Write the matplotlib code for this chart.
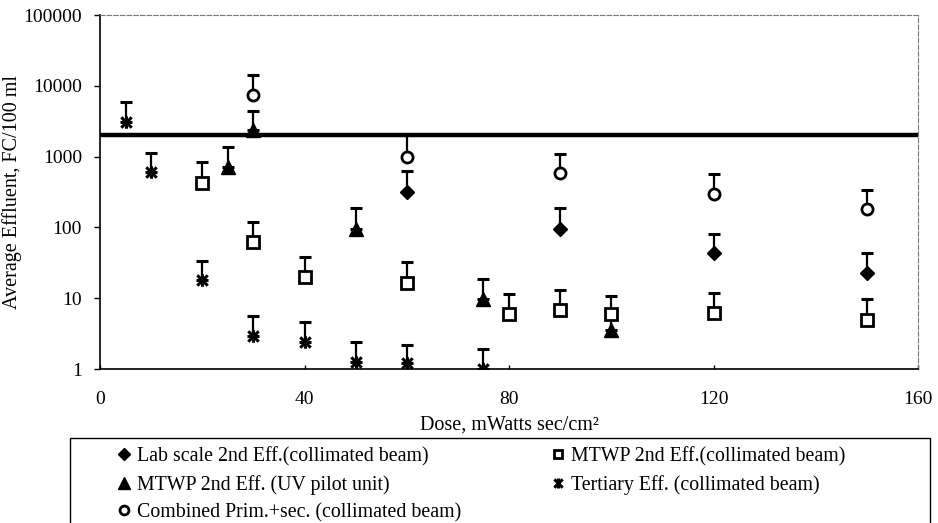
"""UV dose vs average effluent fecal coliform, log scale with error bars."""

import matplotlib
matplotlib.use("Agg")
import matplotlib.pyplot as plt
import numpy as np
from matplotlib.patches import Rectangle
from matplotlib.path import Path

plt.rcParams["font.family"] = ["Liberation Serif", "DejaVu Serif"]

# data (dose in mW s/cm^2, counts FC/100 ml)
lab_dose = [60, 90, 120, 150]
lab_val = [320, 94, 44, 23]
lab_top = [630, 185, 82, 44]

mtwp_dose = [20, 30, 40, 60, 80, 90, 100, 120, 150]
mtwp_val = [430, 63, 20, 16.5, 5.9, 6.8, 5.9, 6.2, 5.0]
mtwp_top = [830, 121, 38, 32, 11.4, 13, 10.7, 11.7, 9.7]

uv_dose = [25, 30, 50, 75, 100]
uv_val = [720, 2400, 94, 9.7, 3.6]
uv_top = [1380, 4400, 185, 18.5, 5.5]

tert_dose = [5, 10, 20, 30, 40, 50, 60, 75]
tert_val = [3100, 610, 18, 2.9, 2.4, 1.25, 1.2, 1.0]
tert_top = [5900, 1140, 34, 5.6, 4.6, 2.4, 2.2, 1.9]

comb_dose = [30, 60, 90, 120, 150]
comb_val = [7500, 1000, 590, 300, 180]
comb_top = [14000, 2000, 1100, 560, 340]

standard = 2000
x_ticks = [0, 40, 80, 120, 160]
y_ticks = [1, 10, 100, 1000, 10000, 100000]

# asterisk-like marker: an x with a vertical stroke
star_path = Path(
    [(-1, -1), (1, 1), (-1, 1), (1, -1), (0, -1.2), (0, 1.2)],
    [Path.MOVETO, Path.LINETO, Path.MOVETO, Path.LINETO, Path.MOVETO, Path.LINETO],
)

W, H = 938, 523
fig = plt.figure(figsize=(W / 100, H / 100), dpi=100)
ax = fig.add_axes([100 / W, 1 - 369 / H, 818 / W, 354 / H])


def series(x, y, top, label, **kw):
    y = np.asarray(y, dtype=float)
    err = [np.zeros_like(y), np.asarray(top, dtype=float) - y]
    ax.errorbar(x, y, yerr=err, fmt="none", ecolor="black",
                elinewidth=1.6, capsize=4.5, capthick=2.2, zorder=2)
    return ax.plot(x, y, linestyle="none", color="black", label=label, zorder=3, **kw)[0]


h_lab = series(lab_dose, lab_val, lab_top, "Lab scale 2nd Eff.(collimated beam)",
               marker="D", markersize=7.5, markerfacecolor="black")
h_mtwp = series(mtwp_dose, mtwp_val, mtwp_top, "MTWP 2nd Eff.(collimated beam)",
                marker="s", markersize=8, markerfacecolor="white", markeredgewidth=2)
h_uv = series(uv_dose, uv_val, uv_top, "MTWP 2nd Eff. (UV pilot unit)",
              marker="^", markersize=10, markerfacecolor="black")
h_tert = series(tert_dose, tert_val, tert_top, "Tertiary Eff. (collimated beam)",
                marker=star_path, markersize=9, markerfacecolor="none", markeredgewidth=2.2)
h_comb = series(comb_dose, comb_val, comb_top, "Combined Prim.+sec. (collimated beam)",
                marker="o", markersize=8, markerfacecolor="white", markeredgewidth=2)

ax.plot([x_ticks[0], x_ticks[-1]], [standard, standard], color="black", lw=3.2, zorder=4)

ax.set_yscale("log")
ax.set_xlim(x_ticks[0], x_ticks[-1])
ax.set_ylim(y_ticks[0], y_ticks[-1])
ax.set_xticks(x_ticks)
ax.set_xticklabels([str(t) for t in x_ticks])
ax.set_yticks(y_ticks)
ax.set_yticklabels([str(t) for t in y_ticks])
ax.yaxis.set_minor_locator(matplotlib.ticker.NullLocator())
ax.tick_params(axis="both", labelsize=14, colors="black")
ax.tick_params(axis="y", direction="out", length=4, width=1, pad=9)
ax.tick_params(axis="x", direction="in", length=3, width=1, pad=16)

for side in ("left", "bottom"):
    ax.spines[side].set_linewidth(1.2)
for side in ("top", "right"):
    ax.spines[side].set_linestyle((0, (4, 2)))
    ax.spines[side].set_color("#777777")
    ax.spines[side].set_linewidth(0.8)

ax.set_xlabel("Dose, mWatts sec/cm²", fontsize=14.5, labelpad=5)
ax.set_ylabel("Average Effluent, FC/100 ml", fontsize=14.5, labelpad=1)

handles = [h_lab, h_uv, h_comb, h_mtwp, h_tert]
fig.legend(
    handles, [h.get_label() for h in handles],
    loc="upper left", bbox_to_anchor=(118 / W, 1 - 447 / H),
    ncol=2, fontsize=14.3, frameon=False, handlelength=0.6, handletextpad=0.35,
    labelspacing=0.42, columnspacing=4.6, borderpad=0, borderaxespad=0,
    markerscale=0.8,
)
# legend frame runs off the bottom of the picture
fig.add_artist(Rectangle((70 / W, -0.05), 860 / W, 1 - 438 / H + 0.05,
                         transform=fig.transFigure, fill=False,
                         edgecolor="black", linewidth=1.0, clip_on=False))

fig.savefig("out.png", dpi=100)
